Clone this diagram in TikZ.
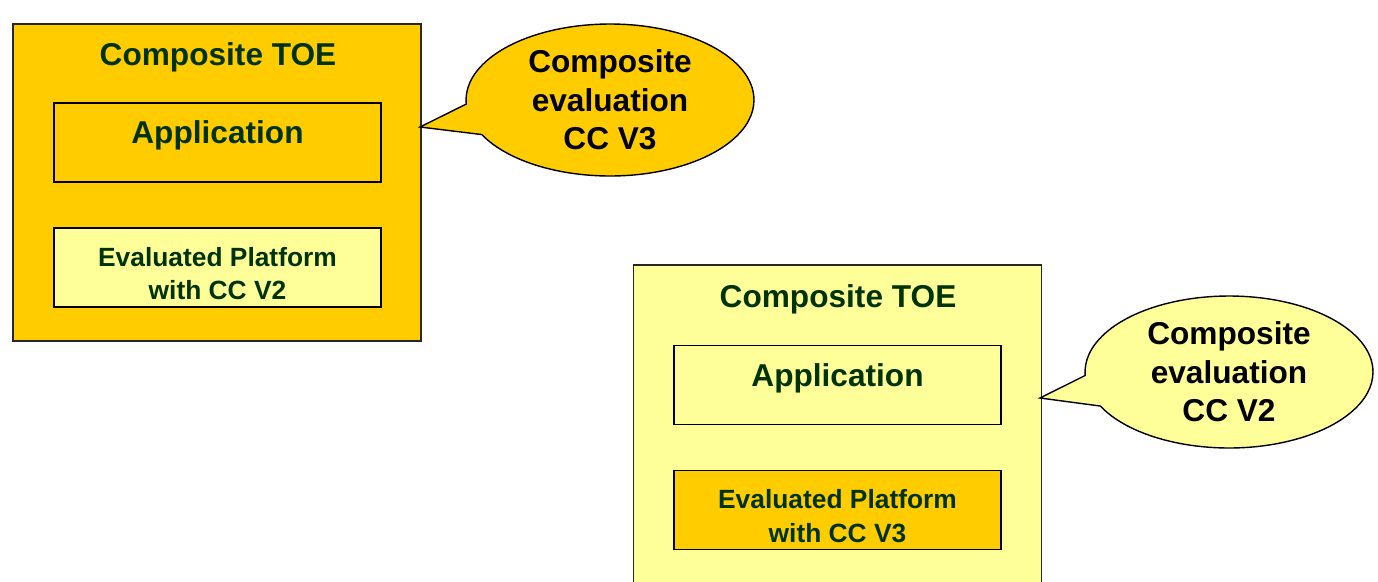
\documentclass[tikz,border=0pt]{standalone}
\usepackage{fontspec}
\setmainfont{Liberation Sans}
\usepackage{xcolor}
\usepackage{tikz}
\usetikzlibrary{positioning, shapes.callouts}

\definecolor{ccorange}{HTML}{FFCC00}
\definecolor{ccyellow}{HTML}{FFFF99}
\definecolor{ccgreen}{HTML}{003300}

\tikzset{
    toebox/.style={draw=black!85, line width=0.8pt, rectangle, minimum width=8.16cm, minimum height=6.7cm},
    partbox/.style={draw=black, line width=0.8pt, rectangle, minimum width=6.54cm, minimum height=1.58cm, inner sep=0pt,
        text=ccgreen, font=\fontsize{15}{19}\selectfont\bfseries, align=center},
    appbox/.style={partbox, font=\fontsize{18}{22}\selectfont\bfseries, text height=0.75em, text depth=0.6em},
    toetitle/.style={text=ccgreen, font=\fontsize{18}{22}\selectfont\bfseries, inner sep=0pt},
    bubble/.style={ellipse callout, draw=black, line width=0.8pt, minimum width=5.76cm, minimum height=3.04cm,
        inner sep=0pt, callout pointer arc=24, align=center, font=\fontsize{18}{22}\selectfont\bfseries}
}

\begin{document}
\begin{tikzpicture}[x=0.02cm, y=-0.02cm]
    \useasboundingbox (0,0) rectangle (1378,581);
    \clip (0,0) rectangle (1378,581);

    % Nodes: composite TOE with CC V3
    \node[toebox, fill=ccorange, minimum height=6.34cm] (toeA) at (217,182.5) {};
    \node[toetitle] (titleA) at (218,57) {Composite TOE};
    \node[appbox, fill=ccorange] (appA) at (217.5,142.5) {Application};
    \node[partbox, fill=ccyellow] (platA) at (217.5,267.5) {\rule{0pt}{1.2em}Evaluated Platform\\with CC V2};
    \coordinate (tipA) at (420,127);
    \node[bubble, fill=ccorange, callout absolute pointer=(tipA)] (evalA) at (610,100) {Composite\\evaluation\\CC V3};

    % Nodes: composite TOE with CC V2
    \node[toebox, fill=ccyellow] (toeB) at (837.5,432.5) {};
    \node[toetitle] (titleB) at (838,299) {Composite TOE};
    \node[appbox, fill=ccyellow] (appB) at (837.5,385) {Application};
    \node[partbox, fill=ccorange] (platB) at (837.5,510) {\rule{0pt}{1.2em}Evaluated Platform\\with CC V3};
    \coordinate (tipB) at (1040,398);
    \node[bubble, fill=ccyellow, callout absolute pointer=(tipB)] (evalB) at (1229,372) {Composite\\evaluation\\CC V2};
\end{tikzpicture}
\end{document}
